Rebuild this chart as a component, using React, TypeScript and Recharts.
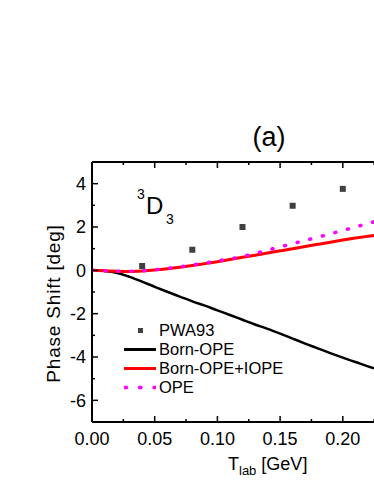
import { ComposedChart, Legend, Line, Scatter, XAxis, YAxis } from "recharts"

// T_lab grid (GeV) for the calculated curves
const tLab = [
  0, 0.01, 0.02, 0.03, 0.04, 0.05, 0.06, 0.07, 0.08, 0.09, 0.1, 0.11, 0.12, 0.13, 0.14, 0.15, 0.16, 0.17, 0.18,
  0.19, 0.2, 0.21, 0.22, 0.23, 0.24, 0.25,
]
const bornOpe = [
  0, -0.03, -0.12, -0.3, -0.52, -0.76, -0.99, -1.21, -1.43, -1.63, -1.85, -2.06, -2.28, -2.5, -2.7, -2.92, -3.15,
  -3.38, -3.6, -3.82, -4.03, -4.23, -4.43, -4.61, -4.78, -4.95,
]
const bornOpeIope = [
  0, -0.02, -0.04, -0.05, -0.03, 0.01, 0.07, 0.14, 0.22, 0.31, 0.4, 0.5, 0.6, 0.7, 0.8, 0.9, 1.0, 1.1, 1.2, 1.3,
  1.4, 1.49, 1.57, 1.65, 1.72, 1.79,
]
const ope = [
  0, -0.02, -0.04, -0.04, -0.02, 0.03, 0.09, 0.16, 0.25, 0.34, 0.44, 0.53, 0.64, 0.78, 0.93, 1.08, 1.23, 1.38,
  1.53, 1.68, 1.84, 2.0, 2.16, 2.32, 2.48, 2.64,
]

// PWA93 partial wave analysis points
const pwaT = [0.04, 0.08, 0.12, 0.16, 0.2]
const pwa93 = [0.2, 0.95, 2.0, 2.98, 3.76]

// axis ticks, even index = major tick; 0.25 label falls outside the visible frame
const xTicks = [0, 0.025, 0.05, 0.075, 0.1, 0.125, 0.15, 0.175, 0.2, 0.225, 0.25]
const xTickLabels = ["0.00", "", "0.05", "", "0.10", "", "0.15", "", "0.20", "", ""]
const yTicks = [-6, -5, -4, -3, -2, -1, 0, 1, 2, 3, 4]
const yTickLabels = ["-6", "", "-4", "", "-2", "", "0", "", "2", "", "4"]

const curveData = tLab.map((t, i) => ({ t, bornOpe: bornOpe[i], bornOpeIope: bornOpeIope[i], ope: ope[i] }))
const pwaData = pwaT.map((t, i) => ({ t, pwa: pwa93[i] }))

const FONT = "'Liberation Sans', Arial, Helvetica, sans-serif"
const AXIS = { stroke: "#000", strokeWidth: 2 }

const legendItems = [
  { name: "PWA93", kind: "square", color: "#404040" },
  { name: "Born-OPE", kind: "line", color: "#000000" },
  { name: "Born-OPE+IOPE", kind: "line", color: "#ff0000" },
  { name: "OPE", kind: "dot", color: "#ff00ff" },
]

function BottomTick(props: any) {
  const { x, y, index } = props
  const label = xTickLabels[index]
  const len = index % 2 === 0 ? 6 : 3
  return (
    <g>
      <line x1={x} x2={x} y1={y} y2={y - len} stroke="#000" strokeWidth={1.5} />
      {label && (
        <text x={x} y={y + 23} textAnchor="middle" fontSize={18} fontFamily={FONT} fill="#000">
          {label}
        </text>
      )}
    </g>
  )
}

function TopTick(props: any) {
  const { x, y, index } = props
  const len = index % 2 === 0 ? 6 : 3
  return <line x1={x} x2={x} y1={y} y2={y + len} stroke="#000" strokeWidth={1.5} />
}

function LeftTick(props: any) {
  const { x, y, index } = props
  const label = yTickLabels[index]
  const len = label ? 6 : 3
  return (
    <g>
      <line x1={x} x2={x + len} y1={y} y2={y} stroke="#000" strokeWidth={1.5} />
      {label && (
        <text x={x - 6} y={y} dy="0.36em" textAnchor="end" fontSize={18} fontFamily={FONT} fill="#000">
          {label}
        </text>
      )}
    </g>
  )
}

function RightTick(props: any) {
  const { x, y, index } = props
  const len = yTickLabels[index] ? 6 : 3
  return <line x1={x} x2={x - len} y1={y} y2={y} stroke="#000" strokeWidth={1.5} />
}

function Square(props: any) {
  const { cx, cy } = props
  return <rect x={cx - 3} y={cy - 3} width={6} height={6} fill="#404040" />
}

function LegendBox() {
  return (
    <div style={{ fontFamily: FONT, fontSize: 16.5, color: "#000" }}>
      {legendItems.map((item) => (
        <div key={item.name} style={{ display: "flex", alignItems: "center", height: 19 }}>
          <svg width={32} height={19} style={{ marginRight: 3 }}>
            {item.kind === "square" && <rect x={14} y={7} width={5} height={5} fill={item.color} />}
            {item.kind === "line" && <line x1={0} x2={32} y1={9.5} y2={9.5} stroke={item.color} strokeWidth={3} />}
            {item.kind === "dot" && (
              <line
                x1={1}
                x2={32}
                y1={9.5}
                y2={9.5}
                stroke={item.color}
                strokeWidth={3.5}
                strokeDasharray="1.5 13"
                strokeLinecap="round"
              />
            )}
          </svg>
          <span style={{ lineHeight: "19px" }}>{item.name}</span>
        </div>
      ))}
    </div>
  )
}

export default function App() {
  return (
    <div style={{ position: "absolute", left: 0, top: 0, width: 374, height: 484, overflow: "hidden", background: "#fff" }}>
      <ComposedChart width={430} height={484} data={curveData} margin={{ top: 161, right: 23.5, bottom: 0, left: 0 }}>
        <XAxis
          xAxisId="bottom"
          dataKey="t"
          type="number"
          domain={[0, 0.25]}
          ticks={xTicks}
          interval={0}
          height={62}
          tickSize={0}
          tickMargin={0}
          tickLine={false}
          axisLine={AXIS}
          tick={<BottomTick />}
          allowDataOverflow
        />
        <XAxis
          xAxisId="top"
          orientation="top"
          dataKey="t"
          type="number"
          domain={[0, 0.25]}
          ticks={xTicks}
          interval={0}
          height={1}
          tickSize={0}
          tickMargin={0}
          tickLine={false}
          axisLine={AXIS}
          tick={<TopTick />}
          allowDataOverflow
        />
        <YAxis
          yAxisId="left"
          type="number"
          domain={[-7, 5]}
          ticks={yTicks}
          interval={0}
          width={92}
          tickSize={0}
          tickMargin={0}
          tickLine={false}
          axisLine={AXIS}
          tick={<LeftTick />}
          allowDataOverflow
        />
        <YAxis
          yAxisId="right"
          orientation="right"
          type="number"
          domain={[-7, 5]}
          ticks={yTicks}
          interval={0}
          width={1}
          tickSize={0}
          tickMargin={0}
          tickLine={false}
          axisLine={AXIS}
          tick={<RightTick />}
          allowDataOverflow
        />
        <Legend
          layout="vertical"
          align="center"
          verticalAlign="middle"
          wrapperStyle={{ left: 124, top: 321, width: 180 }}
          content={<LegendBox />}
        />
        <Scatter
          xAxisId="bottom"
          yAxisId="left"
          name="PWA93"
          data={pwaData}
          dataKey="pwa"
          fill="#404040"
          shape={<Square />}
          isAnimationActive={false}
        />
        <Line
          xAxisId="bottom"
          yAxisId="left"
          type="monotone"
          dataKey="bornOpe"
          name="Born-OPE"
          stroke="#000000"
          strokeWidth={2.5}
          dot={false}
          isAnimationActive={false}
        />
        <Line
          xAxisId="bottom"
          yAxisId="left"
          type="monotone"
          dataKey="bornOpeIope"
          name="Born-OPE+IOPE"
          stroke="#ff0000"
          strokeWidth={3}
          dot={false}
          isAnimationActive={false}
        />
        <Line
          xAxisId="bottom"
          yAxisId="left"
          type="monotone"
          dataKey="ope"
          name="OPE"
          stroke="#ff00ff"
          strokeWidth={3.5}
          strokeDasharray="1 12"
          strokeLinecap="round"
          dot={false}
          isAnimationActive={false}
        />
      </ComposedChart>
      <svg width={374} height={484} style={{ position: "absolute", left: 0, top: 0, pointerEvents: "none" }}>
        <text x={269} y={146} textAnchor="middle" fontSize={27} fontFamily={FONT} fill="#000">
          (a)
        </text>
        <text fontFamily={FONT} fill="#000">
          <tspan x={137} y={199} fontSize={14}>3</tspan>
          <tspan x={146} y={214} fontSize={24}>D</tspan>
          <tspan x={166} y={224} fontSize={14}>3</tspan>
        </text>
        <text
          x={53.5}
          y={303.5}
          transform="rotate(-90 53.5 303.5)"
          textAnchor="middle"
          dominantBaseline="central"
          fontSize={19}
          letterSpacing={0.8}
          fontFamily={FONT}
          fill="#000"
        >
          Phase Shift [deg]
        </text>
        <text fontFamily={FONT} fill="#000">
          <tspan x={228} y={470} fontSize={18}>T</tspan>
          <tspan y={475} fontSize={13}>lab</tspan>
          <tspan y={470} fontSize={18}> [GeV]</tspan>
        </text>
      </svg>
    </div>
  )
}
